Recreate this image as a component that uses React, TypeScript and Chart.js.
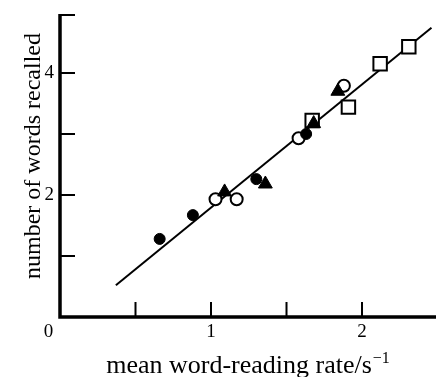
import React, { useEffect, useRef } from "react";
import { Chart, registerables } from "chart.js";

Chart.register(...registerables);

// ---- data ----
const filledCircleX = [0.66, 0.88, 1.30, 1.63];
const filledCircleY = [1.28, 1.67, 2.26, 3.00];
const openCircleX = [1.03, 1.17, 1.58, 1.88];
const openCircleY = [1.93, 1.93, 2.93, 3.79];
const filledTriangleX = [1.09, 1.36, 1.68, 1.84];
const filledTriangleY = [2.05, 2.18, 3.17, 3.70];
const openSquareX = [1.67, 1.91, 2.12, 2.31];
const openSquareY = [3.22, 3.44, 4.15, 4.43];
const fitLineX = [0.37, 2.46];
const fitLineY = [0.52, 4.74];

const xTickMarks = [0.5, 1, 1.5, 2];
const yTickMarks = [1, 2, 3, 4];
const xTickLabels = [1, 2];
const yTickLabels = [2, 4];
const originLabel = "0";
const xTitle = "mean word-reading rate/s";
const xTitleSup = "\u22121";
const yTitle = "number of words recalled";

const X_MIN = 0;
const X_MAX = 2.49;
const Y_MIN = 0;
const Y_MAX = 4.95;

const FONT = "'Liberation Serif', 'Times New Roman', serif";

const pts = (xs: number[], ys: number[]) => xs.map((x, i) => ({ x, y: ys[i] }));

const axesPlugin = {
  id: "customAxes",
  beforeDatasetsDraw(chart: any) {
    const { ctx, chartArea } = chart;
    const xs = chart.scales.x;
    const ys = chart.scales.y;
    const x0 = xs.getPixelForValue(X_MIN);
    const y0 = ys.getPixelForValue(Y_MIN);
    const yTop = ys.getPixelForValue(Y_MAX);
    const xRight = chartArea.right;
    ctx.save();
    ctx.strokeStyle = "#000";
    ctx.lineCap = "butt";
    // axis lines
    ctx.lineWidth = 3.5;
    ctx.beginPath();
    ctx.moveTo(x0, yTop - 1);
    ctx.lineTo(x0, y0 + 1.75);
    ctx.moveTo(x0 - 1.75, y0);
    ctx.lineTo(xRight, y0);
    ctx.stroke();
    // tick marks, pointing inward
    ctx.lineWidth = 2;
    ctx.beginPath();
    for (const v of yTickMarks) {
      const p = ys.getPixelForValue(v);
      ctx.moveTo(x0, p);
      ctx.lineTo(x0 + 15, p);
    }
    // cap at the top of the y axis
    ctx.moveTo(x0, yTop);
    ctx.lineTo(x0 + 15, yTop);
    for (const v of xTickMarks) {
      const p = xs.getPixelForValue(v);
      ctx.moveTo(p, y0);
      ctx.lineTo(p, y0 - 15);
    }
    ctx.stroke();
    ctx.restore();
  },
  afterDraw(chart: any) {
    const { ctx, chartArea } = chart;
    const xs = chart.scales.x;
    const ys = chart.scales.y;
    ctx.save();
    ctx.fillStyle = "#000";
    // origin label "0"
    ctx.font = `19px ${FONT}`;
    ctx.textAlign = "center";
    ctx.textBaseline = "alphabetic";
    ctx.fillText(originLabel, xs.getPixelForValue(X_MIN) - 11.5, ys.getPixelForValue(Y_MIN) + 20);

    // x title with superscript
    const mainFont = `26px ${FONT}`;
    const supFont = `16px ${FONT}`;
    ctx.font = mainFont;
    const wMain = ctx.measureText(xTitle).width;
    ctx.font = supFont;
    const wSup = ctx.measureText(xTitleSup).width;
    const cx = (chartArea.left + chartArea.right) / 2;
    const startX = cx - (wMain + wSup + 1) / 2;
    const baseY = ys.getPixelForValue(Y_MIN) + 56;
    ctx.textAlign = "left";
    ctx.font = mainFont;
    ctx.fillText(xTitle, startX, baseY);
    ctx.font = supFont;
    ctx.fillText(xTitleSup, startX + wMain + 1, baseY - 10);

    // y title, rotated
    ctx.font = `24px ${FONT}`;
    ctx.translate(chartArea.left - 20, (chartArea.top + chartArea.bottom) / 2 - 10);
    ctx.rotate(-Math.PI / 2);
    ctx.textAlign = "center";
    ctx.textBaseline = "alphabetic";
    ctx.fillText(yTitle, 0, 0);
    ctx.restore();
  },
};

export default function App() {
  const canvasRef = useRef<HTMLCanvasElement | null>(null);

  useEffect(() => {
    const canvas = canvasRef.current;
    if (!canvas) return;
    const chart = new Chart(canvas, {
      type: "scatter",
      data: {
        datasets: [
          {
            type: "line",
            label: "fit",
            data: pts(fitLineX, fitLineY),
            borderColor: "#000",
            borderWidth: 2,
            pointRadius: 0,
            fill: false,
            tension: 0,
            order: 5,
          } as any,
          {
            label: "open squares",
            data: pts(openSquareX, openSquareY),
            pointStyle: "rect",
            pointRadius: 9.5,
            backgroundColor: "#fff",
            borderColor: "#000",
            borderWidth: 2,
            order: 4,
          },
          {
            label: "open circles",
            data: pts(openCircleX, openCircleY),
            pointStyle: "circle",
            pointRadius: 6,
            backgroundColor: "#fff",
            borderColor: "#000",
            borderWidth: 2,
            order: 3,
          },
          {
            label: "filled triangles",
            data: pts(filledTriangleX, filledTriangleY),
            pointStyle: "triangle",
            pointRadius: 8,
            backgroundColor: "#000",
            borderColor: "#000",
            borderWidth: 1,
            order: 2,
          },
          {
            label: "filled circles",
            data: pts(filledCircleX, filledCircleY),
            pointStyle: "circle",
            pointRadius: 5.5,
            backgroundColor: "#000",
            borderColor: "#000",
            borderWidth: 1,
            order: 1,
          },
        ],
      },
      options: {
        animation: false,
        responsive: false,
        maintainAspectRatio: false,
        layout: { autoPadding: false, padding: { top: 15, left: 0, right: 0, bottom: 0 } },
        plugins: {
          legend: { display: false },
          tooltip: { enabled: false },
        },
        scales: {
          x: {
            type: "linear",
            min: X_MIN,
            max: X_MAX,
            grid: { display: false, drawTicks: false },
            border: { display: false },
            afterBuildTicks: (scale: any) => {
              scale.ticks = xTickLabels.map((v) => ({ value: v }));
            },
            afterFit: (scale: any) => {
              scale.height = 60;
              scale.paddingLeft = 0;
              scale.paddingRight = 0;
            },
            ticks: {
              padding: 4,
              color: "#000",
              font: { family: FONT, size: 19 },
              callback: (v: any) => String(v),
            },
          },
          y: {
            type: "linear",
            min: Y_MIN,
            max: Y_MAX,
            grid: { display: false, drawTicks: false },
            border: { display: false },
            afterBuildTicks: (scale: any) => {
              scale.ticks = yTickLabels.map((v) => ({ value: v }));
            },
            afterFit: (scale: any) => {
              scale.width = 60;
              scale.paddingTop = 0;
              scale.paddingBottom = 0;
            },
            ticks: {
              padding: 6,
              color: "#000",
              font: { family: FONT, size: 19 },
              callback: (v: any) => String(v),
            },
          },
        },
      },
      plugins: [axesPlugin],
    });
    return () => chart.destroy();
  }, []);

  return (
    <div style={{ position: "absolute", left: 0, top: 0, width: 436, height: 377, background: "#fff" }}>
      <canvas ref={canvasRef} width={436} height={377} />
    </div>
  );
}
